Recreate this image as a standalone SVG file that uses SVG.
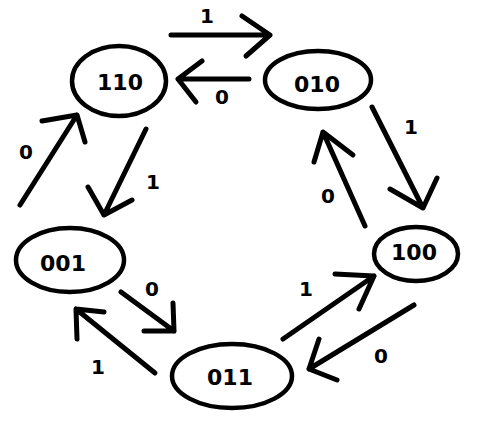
<svg xmlns="http://www.w3.org/2000/svg" width="496" height="433" viewBox="0 0 496 433">
<style>
.node ellipse{fill:#fff;stroke:#000;stroke-width:4.5}
.node text{font-family:"DejaVu Sans",Verdana,sans-serif;font-weight:bold;font-size:22px;text-anchor:middle;dominant-baseline:central;fill:#000}
.edges path{fill:none;stroke:#000;stroke-width:5;stroke-linecap:round;stroke-linejoin:round}
.lbl text{font-family:"DejaVu Sans",Verdana,sans-serif;font-weight:bold;font-size:20px;text-anchor:middle;dominant-baseline:central;fill:#000}
</style>
<rect width="496" height="433" fill="#fff"/>
<g id="n110" class="node"><ellipse cx="119" cy="81" rx="47" ry="35"/><text x="120" y="82">110</text></g>
<g id="n010" class="node"><ellipse cx="318" cy="80" rx="53" ry="29"/><text x="317" y="84">010</text></g>
<g id="n001" class="node"><ellipse cx="70" cy="260" rx="54" ry="32"/><text x="63" y="263">001</text></g>
<g id="n011" class="node"><ellipse cx="232" cy="376" rx="60" ry="32"/><text x="230" y="377">011</text></g>
<g id="n100" class="node"><ellipse cx="416" cy="254" rx="42" ry="27"/><text x="414" y="252">100</text></g>
<g id="edges" class="edges">
<path d="M171 35 H270 M242 16 L270 35 L246 56"/>
<path d="M249 79 H178 M202 61 L178 79 L196 102"/>
<path d="M372 107 L423 208 M390 189 L423 208 L437 178"/>
<path d="M365 226 L323 132 M314 162 L323 132 L353 155"/>
<path d="M414 305 L309 369 M319 339 L309 369 L337 380"/>
<path d="M283 339 L374 276 M335 274 L374 276 L359 309"/>
<path d="M155 373 L76 309 M104 312 L76 309 L77 339"/>
<path d="M121 292 L174 331 M173 303 L174 331 L144 331"/>
<path d="M20 205 L77 115 M42 121 L77 115 L85 142"/>
<path d="M146 129 L104 215 M88 187 L104 215 L132 200"/>
</g>
<g id="labels" class="lbl">
<text x="207" y="16">1</text>
<text x="222" y="97">0</text>
<text x="411" y="127">1</text>
<text x="328" y="196">0</text>
<text x="381" y="356">0</text>
<text x="306" y="289">1</text>
<text x="98" y="367">1</text>
<text x="152" y="289">0</text>
<text x="26" y="152">0</text>
<text x="153" y="182">1</text>
</g>
</svg>
